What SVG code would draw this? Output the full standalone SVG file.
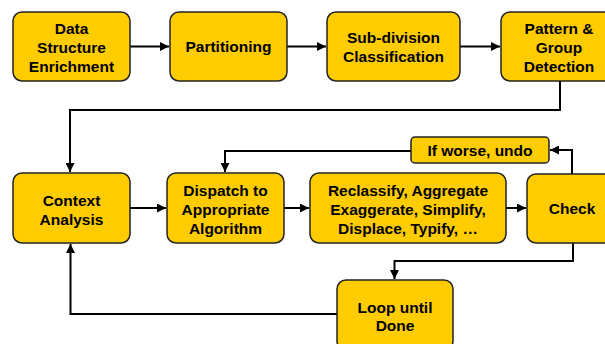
<svg xmlns="http://www.w3.org/2000/svg" width="605" height="344" viewBox="0 0 605 344">
<defs>
<style>
.box{fill:#FFCC00;stroke:#222;stroke-width:1.5}
.t{font-family:"Liberation Sans",Arial,sans-serif;font-weight:bold;font-size:15.5px;fill:#000;text-anchor:middle}
.c{fill:none;stroke:#000;stroke-width:2}
</style>
<marker id="ah" viewBox="0 0 10 10" refX="10" refY="5" markerWidth="4.5" markerHeight="4.5" orient="auto" markerUnits="strokeWidth">
<path d="M0,0 L10,5 L0,10 Z" fill="#000"/>
</marker>
</defs>
<rect width="605" height="344" fill="#fff"/>
<g id="connectors">
<path class="c" d="M130,46.5 H169" marker-end="url(#ah)"/>
<path class="c" d="M287,46.5 H326" marker-end="url(#ah)"/>
<path class="c" d="M460,46.5 H500" marker-end="url(#ah)"/>
<path class="c" d="M560,81 V110 H70 V172" marker-end="url(#ah)"/>
<path class="c" d="M130,208 H166" marker-end="url(#ah)"/>
<path class="c" d="M284,208 H309" marker-end="url(#ah)"/>
<path class="c" d="M506,208 H526" marker-end="url(#ah)"/>
<path class="c" d="M572,174 V150 H550" marker-end="url(#ah)"/>
<path class="c" d="M411,151 H225 V172" marker-end="url(#ah)"/>
<path class="c" d="M573,243 V261 H394.5 V279" marker-end="url(#ah)"/>
<path class="c" d="M337,314 H70.5 V244" marker-end="url(#ah)"/>
</g>
<g id="n1">
<rect class="box" x="13" y="12" width="117" height="69" rx="9"/>
<text class="t" x="71.5" y="34">Data</text>
<text class="t" x="71.5" y="53">Structure</text>
<text class="t" x="71.5" y="72">Enrichment</text>
</g>
<g id="n2">
<rect class="box" x="170" y="12" width="117" height="69" rx="9"/>
<text class="t" x="228.5" y="52">Partitioning</text>
</g>
<g id="n3">
<rect class="box" x="327" y="12" width="133" height="69" rx="9"/>
<text class="t" x="393.5" y="43">Sub-division</text>
<text class="t" x="393.5" y="62">Classification</text>
</g>
<g id="n4">
<rect class="box" x="501" y="12" width="117" height="69" rx="9"/>
<text class="t" x="559" y="34">Pattern &amp;</text>
<text class="t" x="559" y="53">Group</text>
<text class="t" x="559" y="72">Detection</text>
</g>
<g id="n5">
<rect class="box" x="13" y="173" width="117" height="70" rx="9"/>
<text class="t" x="71.5" y="205.5">Context</text>
<text class="t" x="71.5" y="224.5">Analysis</text>
</g>
<g id="n6">
<rect class="box" x="167" y="173" width="117" height="70" rx="9"/>
<text class="t" x="225.5" y="195.5">Dispatch to</text>
<text class="t" x="225.5" y="214.5">Appropriate</text>
<text class="t" x="225.5" y="233.5">Algorithm</text>
</g>
<g id="n7">
<rect class="box" x="310" y="173" width="196" height="70" rx="9"/>
<text class="t" x="408" y="195.5">Reclassify, Aggregate</text>
<text class="t" x="408" y="214.5">Exaggerate, Simplify,</text>
<text class="t" x="408" y="233.5">Displace, Typify, …</text>
</g>
<g id="n8">
<rect class="box" x="527" y="174" width="90" height="69" rx="9"/>
<text class="t" x="572" y="214">Check</text>
</g>
<g id="n9">
<rect class="box" x="411" y="137" width="138" height="26" rx="4"/>
<text class="t" x="480" y="155.5">If worse, undo</text>
</g>
<g id="n10">
<rect class="box" x="337" y="280" width="116" height="70" rx="9"/>
<text class="t" x="395" y="312.5">Loop until</text>
<text class="t" x="395" y="331">Done</text>
</g>
</svg>
